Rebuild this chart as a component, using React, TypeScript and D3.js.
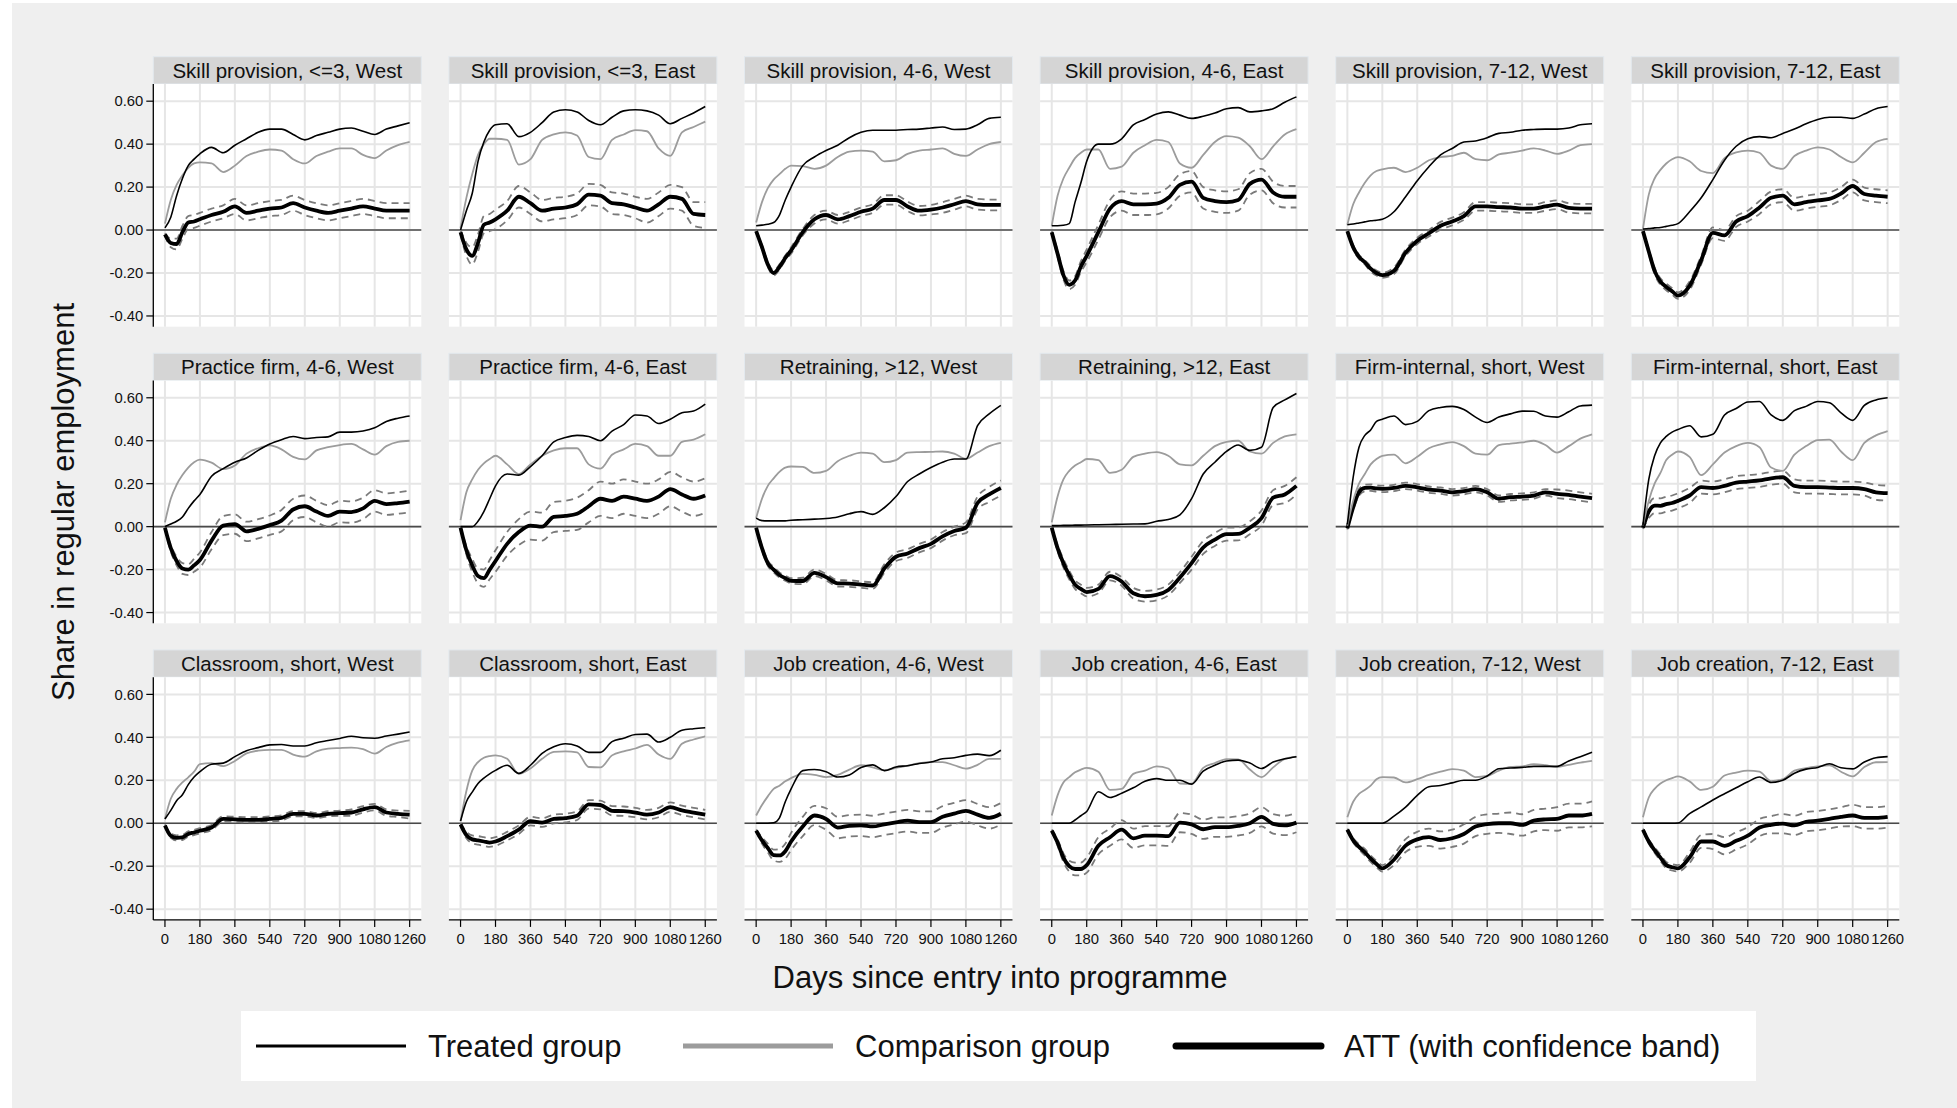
import React from "react";
import * as d3 from "d3";

const DAYS = [0,30,60,90,120,150,180,240,300,360,420,480,540,600,660,720,780,840,900,960,1020,1080,1140,1200,1260];
const X_TICKS = [0,180,360,540,720,900,1080,1260];
const Y_TICKS = [0.6,0.4,0.2,0,-0.2,-0.4];
const Y_TICK_LABELS = ["0.60","0.40","0.20","0.00","-0.20","-0.40"];

const TITLES = [
  "Skill provision, <=3, West","Skill provision, <=3, East","Skill provision, 4-6, West","Skill provision, 4-6, East","Skill provision, 7-12, West","Skill provision, 7-12, East",
  "Practice firm, 4-6, West","Practice firm, 4-6, East","Retraining, >12, West","Retraining, >12, East","Firm-internal, short, West","Firm-internal, short, East",
  "Classroom, short, West","Classroom, short, East","Job creation, 4-6, West","Job creation, 4-6, East","Job creation, 7-12, West","Job creation, 7-12, East",
];

const TREATED = [
  [0.01,0.06,0.16,0.24,0.30,0.33,0.355,0.385,0.36,0.395,0.425,0.455,0.47,0.47,0.445,0.42,0.44,0.455,0.47,0.475,0.46,0.445,0.47,0.485,0.50],
  [0.0,0.09,0.17,0.32,0.41,0.465,0.49,0.495,0.435,0.455,0.50,0.55,0.56,0.55,0.51,0.49,0.525,0.555,0.56,0.555,0.535,0.495,0.52,0.545,0.575],
  [0.02,0.023,0.027,0.035,0.07,0.14,0.20,0.30,0.34,0.37,0.395,0.43,0.455,0.465,0.465,0.465,0.468,0.47,0.475,0.48,0.468,0.47,0.49,0.52,0.525],
  [0.02,0.02,0.022,0.03,0.13,0.22,0.32,0.40,0.40,0.425,0.49,0.515,0.54,0.55,0.535,0.52,0.53,0.545,0.565,0.57,0.55,0.555,0.565,0.595,0.62],
  [0.025,0.028,0.033,0.038,0.043,0.046,0.05,0.085,0.155,0.23,0.295,0.35,0.38,0.41,0.415,0.43,0.45,0.455,0.465,0.468,0.47,0.47,0.475,0.49,0.495],
  [0.005,0.007,0.01,0.012,0.017,0.022,0.03,0.085,0.15,0.235,0.325,0.39,0.425,0.435,0.43,0.45,0.47,0.495,0.515,0.525,0.525,0.52,0.54,0.565,0.575],
  [0.0,0.012,0.025,0.045,0.085,0.12,0.15,0.235,0.27,0.30,0.32,0.355,0.385,0.405,0.42,0.41,0.415,0.418,0.44,0.44,0.445,0.46,0.49,0.505,0.515],
  [0.0,0.0,0.0,0.025,0.07,0.13,0.19,0.245,0.24,0.28,0.33,0.395,0.415,0.425,0.42,0.40,0.445,0.475,0.52,0.515,0.48,0.50,0.53,0.538,0.57],
  [0.04,0.028,0.027,0.027,0.027,0.027,0.03,0.032,0.035,0.038,0.045,0.06,0.07,0.057,0.088,0.14,0.21,0.245,0.275,0.30,0.315,0.315,0.47,0.525,0.565],
  [0.005,0.005,0.006,0.006,0.007,0.007,0.008,0.009,0.01,0.011,0.012,0.013,0.025,0.033,0.055,0.13,0.245,0.30,0.35,0.38,0.355,0.37,0.555,0.59,0.62],
  [0.01,0.23,0.37,0.425,0.45,0.49,0.50,0.515,0.475,0.49,0.54,0.555,0.56,0.545,0.51,0.485,0.51,0.525,0.538,0.537,0.515,0.51,0.535,0.562,0.566],
  [0.005,0.22,0.33,0.39,0.42,0.44,0.452,0.47,0.418,0.43,0.52,0.55,0.58,0.583,0.52,0.495,0.54,0.56,0.583,0.577,0.53,0.495,0.565,0.59,0.6],
  [0.02,0.06,0.105,0.133,0.18,0.215,0.24,0.275,0.28,0.31,0.338,0.352,0.365,0.367,0.36,0.36,0.375,0.385,0.395,0.405,0.398,0.396,0.406,0.415,0.425],
  [0.01,0.1,0.145,0.185,0.21,0.23,0.246,0.27,0.232,0.27,0.325,0.356,0.37,0.36,0.33,0.33,0.38,0.396,0.413,0.415,0.378,0.40,0.433,0.44,0.445],
  [0.0,0.0,0.0,0.002,0.025,0.1,0.16,0.245,0.25,0.24,0.215,0.225,0.26,0.272,0.245,0.262,0.268,0.278,0.285,0.30,0.305,0.316,0.322,0.315,0.34],
  [0.0,0.0,0.0,0.0,0.015,0.035,0.055,0.147,0.12,0.14,0.165,0.195,0.208,0.2,0.2,0.182,0.243,0.27,0.29,0.294,0.28,0.255,0.285,0.3,0.31],
  [0.0,0.0,0.0,0.0,0.0,0.0,0.0,0.033,0.075,0.13,0.17,0.176,0.188,0.2,0.2,0.22,0.254,0.257,0.26,0.265,0.265,0.265,0.29,0.31,0.33],
  [0.0,0.0,0.0,0.0,0.0,0.0,0.001,0.045,0.076,0.108,0.137,0.165,0.193,0.215,0.19,0.2,0.233,0.252,0.26,0.277,0.258,0.253,0.285,0.305,0.31],
];

const COMPARISON = [
  [0.03,0.14,0.21,0.255,0.29,0.31,0.315,0.31,0.27,0.30,0.345,0.365,0.375,0.37,0.33,0.31,0.345,0.365,0.38,0.38,0.35,0.335,0.37,0.395,0.41],
  [0.01,0.15,0.26,0.35,0.40,0.425,0.425,0.42,0.305,0.33,0.42,0.445,0.455,0.44,0.34,0.33,0.42,0.445,0.465,0.46,0.38,0.345,0.455,0.48,0.505],
  [0.035,0.13,0.195,0.235,0.26,0.285,0.30,0.298,0.285,0.30,0.34,0.365,0.37,0.365,0.32,0.325,0.355,0.37,0.375,0.38,0.355,0.345,0.375,0.40,0.41],
  [0.02,0.16,0.24,0.29,0.335,0.36,0.375,0.375,0.285,0.295,0.36,0.395,0.42,0.41,0.31,0.29,0.35,0.41,0.437,0.43,0.39,0.33,0.39,0.445,0.47],
  [0.025,0.12,0.175,0.22,0.255,0.275,0.283,0.29,0.27,0.29,0.325,0.34,0.345,0.36,0.33,0.325,0.352,0.36,0.37,0.38,0.37,0.355,0.37,0.395,0.40],
  [0.005,0.165,0.24,0.28,0.31,0.33,0.34,0.32,0.275,0.265,0.335,0.362,0.37,0.36,0.30,0.285,0.345,0.37,0.385,0.375,0.34,0.315,0.36,0.41,0.425],
  [0.02,0.13,0.195,0.24,0.275,0.30,0.312,0.298,0.268,0.285,0.34,0.365,0.378,0.36,0.325,0.313,0.355,0.37,0.38,0.385,0.36,0.335,0.375,0.395,0.40],
  [0.03,0.16,0.22,0.265,0.295,0.315,0.33,0.29,0.245,0.29,0.33,0.355,0.365,0.365,0.29,0.27,0.335,0.36,0.385,0.375,0.33,0.33,0.395,0.405,0.43],
  [0.04,0.13,0.19,0.225,0.255,0.275,0.28,0.278,0.25,0.26,0.305,0.33,0.345,0.34,0.30,0.31,0.345,0.347,0.348,0.35,0.34,0.316,0.345,0.375,0.39],
  [0.02,0.14,0.22,0.26,0.285,0.30,0.315,0.31,0.25,0.265,0.325,0.34,0.347,0.33,0.29,0.285,0.33,0.375,0.395,0.40,0.35,0.34,0.39,0.42,0.43],
  [0.005,0.12,0.2,0.245,0.29,0.315,0.33,0.335,0.295,0.325,0.365,0.383,0.394,0.375,0.34,0.335,0.38,0.387,0.392,0.40,0.38,0.345,0.375,0.41,0.43],
  [0.005,0.12,0.2,0.25,0.31,0.335,0.35,0.325,0.24,0.29,0.345,0.375,0.39,0.37,0.275,0.26,0.335,0.375,0.403,0.405,0.35,0.31,0.39,0.425,0.445],
  [0.02,0.114,0.16,0.19,0.214,0.24,0.275,0.28,0.266,0.29,0.325,0.338,0.342,0.342,0.32,0.31,0.335,0.347,0.35,0.352,0.345,0.324,0.355,0.375,0.386],
  [0.01,0.15,0.245,0.285,0.305,0.313,0.316,0.3,0.23,0.255,0.30,0.332,0.335,0.33,0.262,0.26,0.316,0.335,0.348,0.365,0.32,0.3,0.37,0.39,0.405],
  [0.036,0.085,0.125,0.16,0.175,0.195,0.21,0.23,0.225,0.215,0.225,0.25,0.27,0.26,0.246,0.258,0.268,0.28,0.285,0.285,0.27,0.254,0.272,0.3,0.3],
  [0.036,0.13,0.19,0.215,0.237,0.25,0.258,0.24,0.155,0.16,0.23,0.245,0.265,0.255,0.185,0.184,0.258,0.28,0.298,0.297,0.25,0.215,0.26,0.3,0.31],
  [0.028,0.1,0.137,0.155,0.175,0.205,0.215,0.213,0.19,0.205,0.225,0.24,0.252,0.245,0.215,0.22,0.245,0.262,0.265,0.275,0.27,0.262,0.272,0.282,0.29],
  [0.028,0.12,0.16,0.185,0.2,0.21,0.218,0.195,0.155,0.17,0.222,0.236,0.245,0.24,0.196,0.205,0.245,0.257,0.265,0.27,0.24,0.218,0.262,0.284,0.285],
];

const ATT = [
  [-0.02,-0.06,-0.065,-0.01,0.035,0.04,0.05,0.07,0.085,0.11,0.08,0.09,0.10,0.105,0.125,0.105,0.09,0.08,0.09,0.10,0.11,0.10,0.09,0.09,0.09],
  [-0.01,-0.09,-0.12,-0.06,0.025,0.035,0.05,0.09,0.155,0.125,0.09,0.10,0.105,0.12,0.165,0.16,0.125,0.12,0.105,0.09,0.12,0.155,0.145,0.075,0.07],
  [-0.005,-0.08,-0.16,-0.20,-0.172,-0.13,-0.095,-0.01,0.05,0.07,0.05,0.065,0.085,0.10,0.14,0.14,0.11,0.09,0.095,0.105,0.12,0.135,0.12,0.117,0.117],
  [-0.01,-0.11,-0.21,-0.255,-0.235,-0.17,-0.12,-0.01,0.10,0.135,0.12,0.12,0.123,0.15,0.21,0.225,0.15,0.135,0.13,0.14,0.215,0.235,0.175,0.155,0.155],
  [-0.005,-0.08,-0.125,-0.15,-0.18,-0.2,-0.21,-0.19,-0.105,-0.05,-0.015,0.02,0.04,0.065,0.11,0.11,0.107,0.105,0.10,0.10,0.11,0.118,0.103,0.10,0.10],
  [-0.005,-0.1,-0.19,-0.24,-0.265,-0.285,-0.305,-0.26,-0.14,-0.013,-0.025,0.04,0.065,0.105,0.15,0.16,0.12,0.13,0.138,0.145,0.17,0.205,0.168,0.16,0.155],
  [-0.005,-0.1,-0.16,-0.195,-0.2,-0.18,-0.155,-0.065,0.005,0.012,-0.022,-0.01,0.007,0.028,0.08,0.095,0.07,0.05,0.07,0.068,0.085,0.12,0.105,0.11,0.117],
  [-0.005,-0.11,-0.18,-0.23,-0.24,-0.2,-0.16,-0.08,-0.025,0.005,0.0,0.045,0.05,0.06,0.095,0.13,0.12,0.14,0.13,0.12,0.14,0.175,0.15,0.13,0.145],
  [-0.005,-0.1,-0.17,-0.2,-0.225,-0.24,-0.252,-0.253,-0.215,-0.235,-0.264,-0.265,-0.27,-0.274,-0.195,-0.14,-0.125,-0.1,-0.08,-0.045,-0.02,-0.005,0.11,0.15,0.18],
  [-0.005,-0.1,-0.17,-0.225,-0.27,-0.29,-0.305,-0.29,-0.23,-0.255,-0.31,-0.324,-0.318,-0.295,-0.237,-0.17,-0.097,-0.06,-0.035,-0.034,-0.005,0.04,0.135,0.15,0.19],
  [-0.008,0.09,0.16,0.18,0.182,0.178,0.176,0.18,0.19,0.183,0.172,0.168,0.16,0.165,0.175,0.16,0.13,0.137,0.14,0.145,0.16,0.153,0.148,0.14,0.133],
  [-0.005,0.07,0.098,0.097,0.105,0.11,0.12,0.145,0.184,0.18,0.19,0.205,0.21,0.215,0.225,0.23,0.19,0.184,0.184,0.182,0.18,0.18,0.175,0.16,0.156],
  [-0.01,-0.058,-0.068,-0.066,-0.05,-0.043,-0.035,-0.02,0.02,0.018,0.016,0.016,0.02,0.025,0.044,0.044,0.036,0.044,0.047,0.05,0.065,0.075,0.05,0.044,0.04],
  [-0.005,-0.055,-0.075,-0.08,-0.085,-0.09,-0.085,-0.06,-0.03,0.01,0.003,0.02,0.024,0.035,0.088,0.085,0.058,0.056,0.05,0.04,0.05,0.075,0.06,0.05,0.04],
  [-0.034,-0.08,-0.115,-0.148,-0.15,-0.13,-0.085,-0.015,0.036,0.02,-0.02,-0.012,-0.01,-0.015,-0.005,0.004,0.012,0.005,0.005,0.03,0.045,0.058,0.04,0.025,0.044],
  [-0.034,-0.09,-0.16,-0.2,-0.213,-0.213,-0.195,-0.105,-0.065,-0.03,-0.07,-0.058,-0.058,-0.06,0.003,-0.005,-0.028,-0.018,-0.018,-0.012,0.0,0.03,-0.003,-0.01,0.003],
  [-0.03,-0.08,-0.11,-0.135,-0.165,-0.19,-0.21,-0.17,-0.104,-0.075,-0.065,-0.078,-0.07,-0.05,-0.015,-0.004,0.0,0.0,-0.008,0.012,0.018,0.02,0.036,0.036,0.044],
  [-0.03,-0.085,-0.125,-0.16,-0.195,-0.205,-0.21,-0.16,-0.085,-0.085,-0.105,-0.082,-0.058,-0.02,-0.007,-0.002,-0.01,0.007,0.012,0.02,0.03,0.036,0.025,0.025,0.03],
];

const CI_HALF = [
  [0.005,0.02,0.025,0.03,0.03,0.03,0.03,0.03,0.03,0.035,0.035,0.035,0.035,0.035,0.035,0.035,0.035,0.035,0.035,0.035,0.035,0.035,0.035,0.035,0.035],
  [0.01,0.03,0.04,0.04,0.04,0.04,0.045,0.045,0.05,0.05,0.05,0.05,0.05,0.05,0.05,0.05,0.05,0.05,0.05,0.055,0.055,0.055,0.055,0.055,0.06],
  [0.005,0.01,0.012,0.012,0.012,0.012,0.015,0.015,0.02,0.02,0.02,0.02,0.02,0.02,0.022,0.022,0.022,0.022,0.022,0.025,0.025,0.025,0.025,0.025,0.025],
  [0.005,0.015,0.02,0.02,0.02,0.025,0.03,0.035,0.04,0.045,0.05,0.05,0.05,0.05,0.05,0.05,0.05,0.05,0.05,0.05,0.05,0.05,0.05,0.05,0.05],
  [0.005,0.01,0.01,0.01,0.012,0.012,0.012,0.015,0.015,0.015,0.015,0.018,0.018,0.018,0.02,0.02,0.02,0.02,0.02,0.02,0.02,0.02,0.022,0.022,0.022],
  [0.005,0.01,0.015,0.015,0.015,0.015,0.015,0.02,0.02,0.025,0.025,0.025,0.025,0.03,0.03,0.03,0.03,0.03,0.03,0.03,0.03,0.03,0.03,0.03,0.03],
  [0.005,0.015,0.02,0.025,0.025,0.03,0.035,0.04,0.045,0.045,0.045,0.045,0.045,0.05,0.05,0.05,0.05,0.05,0.05,0.05,0.05,0.05,0.05,0.05,0.05],
  [0.005,0.02,0.03,0.035,0.04,0.045,0.05,0.055,0.06,0.065,0.065,0.07,0.07,0.075,0.075,0.08,0.08,0.08,0.08,0.08,0.08,0.08,0.08,0.08,0.08],
  [0.005,0.01,0.012,0.012,0.012,0.012,0.012,0.015,0.015,0.015,0.015,0.015,0.015,0.015,0.02,0.02,0.02,0.02,0.02,0.02,0.02,0.025,0.03,0.035,0.035],
  [0.005,0.015,0.02,0.02,0.02,0.02,0.02,0.02,0.02,0.02,0.025,0.025,0.025,0.025,0.025,0.03,0.03,0.03,0.03,0.03,0.03,0.035,0.035,0.04,0.04],
  [0.005,0.01,0.015,0.015,0.015,0.015,0.015,0.015,0.015,0.015,0.015,0.015,0.015,0.015,0.015,0.015,0.015,0.015,0.015,0.015,0.015,0.02,0.02,0.02,0.02],
  [0.005,0.03,0.035,0.035,0.035,0.035,0.035,0.035,0.03,0.03,0.03,0.03,0.03,0.03,0.03,0.03,0.03,0.03,0.03,0.03,0.03,0.03,0.03,0.035,0.035],
  [0.005,0.01,0.012,0.012,0.012,0.012,0.012,0.012,0.012,0.012,0.012,0.012,0.012,0.012,0.012,0.012,0.012,0.012,0.012,0.015,0.015,0.015,0.015,0.015,0.018],
  [0.005,0.015,0.018,0.02,0.02,0.02,0.02,0.02,0.02,0.02,0.02,0.02,0.02,0.02,0.02,0.02,0.022,0.022,0.022,0.022,0.022,0.022,0.022,0.022,0.022],
  [0.005,0.015,0.02,0.025,0.03,0.035,0.04,0.045,0.045,0.05,0.05,0.05,0.05,0.05,0.05,0.05,0.05,0.05,0.05,0.05,0.05,0.05,0.05,0.05,0.05],
  [0.005,0.015,0.02,0.025,0.03,0.03,0.035,0.04,0.04,0.045,0.045,0.045,0.045,0.045,0.045,0.045,0.045,0.045,0.045,0.045,0.045,0.045,0.045,0.045,0.045],
  [0.005,0.01,0.012,0.015,0.015,0.015,0.015,0.025,0.03,0.035,0.04,0.04,0.04,0.045,0.045,0.045,0.045,0.05,0.05,0.05,0.05,0.055,0.055,0.055,0.058],
  [0.005,0.01,0.012,0.015,0.015,0.015,0.015,0.025,0.03,0.035,0.04,0.04,0.04,0.04,0.04,0.045,0.045,0.045,0.045,0.045,0.045,0.05,0.05,0.05,0.05],
];

const LEGEND_LABELS = ["Treated group", "Comparison group", "ATT (with confidence band)"];
const X_TITLE = "Days since entry into programme";
const Y_TITLE = "Share in regular employment";

const W = 1957;
const H = 1108;
const FONT = "'Liberation Sans', Arial, Helvetica, sans-serif";
const NCOL = 6;
const COL_X0 = 153.3;
const COL_STEP = 295.6;
const PANEL_W = 268;
const ROW_Y0 = 56.7;
const ROW_STEP = 296.6;
const HEADER_H = 27.3;
const PLOT_H = 242.7;

function Panel({ idx }: { idx: number }) {
  const col = idx % NCOL;
  const row = Math.floor(idx / NCOL);
  const L = COL_X0 + col * COL_STEP;
  const headTop = ROW_Y0 + row * ROW_STEP;
  const top = headTop + HEADER_H;
  const bottom = top + PLOT_H;
  const x = d3.scaleLinear().domain([-60, 1320]).range([L, L + PANEL_W]);
  const y = d3.scaleLinear().domain([-0.45, 0.68]).range([bottom, top]);
  const line = d3
    .line<[number, number]>()
    .x((d) => x(d[0]))
    .y((d) => y(d[1]))
    .curve(d3.curveMonotoneX);
  const mk = (vals: number[]) => DAYS.map((d, i) => [d, vals[i]] as [number, number]);
  const att = ATT[idx];
  const ci = CI_HALF[idx];
  const lo = att.map((v, i) => v - ci[i]);
  const hi = att.map((v, i) => v + ci[i]);
  const showY = col === 0;
  const showX = row === 2;
  return (
    <g>
      <rect x={L} y={headTop} width={PANEL_W} height={HEADER_H} fill="#d5d5d5" stroke="#e3e9ee" strokeWidth={1} />
      <text x={L + PANEL_W / 2} y={headTop + 21} textAnchor="middle" fontSize={20.5} fontFamily={FONT} fill="#111">
        {TITLES[idx]}
      </text>
      <rect x={L} y={top} width={PANEL_W} height={PLOT_H} fill="#ffffff" />
      {Y_TICKS.map((t) => (
        <line key={"gy" + t} x1={L} x2={L + PANEL_W} y1={y(t)} y2={y(t)} stroke="#e6e6e6" strokeWidth={2} />
      ))}
      {X_TICKS.map((t) => (
        <line key={"gx" + t} x1={x(t)} x2={x(t)} y1={top} y2={bottom} stroke="#e6e6e6" strokeWidth={2} />
      ))}
      <line x1={L} x2={L + PANEL_W} y1={y(0)} y2={y(0)} stroke="#4a4a4a" strokeWidth={1.6} />
      <path d={line(mk(lo)) || ""} fill="none" stroke="#7a7a7a" strokeWidth={1.8} strokeDasharray="7,5" />
      <path d={line(mk(hi)) || ""} fill="none" stroke="#7a7a7a" strokeWidth={1.8} strokeDasharray="7,5" />
      <path d={line(mk(att)) || ""} fill="none" stroke="#000" strokeWidth={3.8} strokeLinejoin="round" />
      <path d={line(mk(COMPARISON[idx])) || ""} fill="none" stroke="#9c9c9c" strokeWidth={1.8} />
      <path d={line(mk(TREATED[idx])) || ""} fill="none" stroke="#000" strokeWidth={1.6} />
      {showY && (
        <g>
          <line x1={L} x2={L} y1={top} y2={bottom} stroke="#000" strokeWidth={1.3} />
          {Y_TICKS.map((t, i) => (
            <g key={"yt" + t}>
              <line x1={L - 7} x2={L} y1={y(t)} y2={y(t)} stroke="#000" strokeWidth={1.2} />
              <text x={L - 10} y={y(t) + 5.2} textAnchor="end" fontSize={14.8} fontFamily={FONT} fill="#111">
                {Y_TICK_LABELS[i]}
              </text>
            </g>
          ))}
        </g>
      )}
      {showX && (
        <g>
          <line x1={L} x2={L + PANEL_W} y1={bottom} y2={bottom} stroke="#000" strokeWidth={1.3} />
          {X_TICKS.map((t) => (
            <g key={"xt" + t}>
              <line x1={x(t)} x2={x(t)} y1={bottom} y2={bottom + 7} stroke="#000" strokeWidth={1.2} />
              <text x={x(t)} y={bottom + 24} textAnchor="middle" fontSize={14.8} fontFamily={FONT} fill="#111">
                {t}
              </text>
            </g>
          ))}
        </g>
      )}
    </g>
  );
}

export default function App() {
  const legendY = 1046;
  const legendItems = [
    { x1: 256, x2: 406, tx: 428, stroke: "#000", w: 2.8, cap: "butt" },
    { x1: 683, x2: 833, tx: 855, stroke: "#9c9c9c", w: 4.8, cap: "butt" },
    { x1: 1176, x2: 1321, tx: 1344, stroke: "#000", w: 7, cap: "round" },
  ];
  return (
    <svg width={W} height={H} style={{ position: "absolute", left: 0, top: 0, display: "block" }}>
      <rect x={0} y={0} width={W} height={H} fill="#ffffff" />
      <rect x={12} y={3} width={W - 12} height={H - 3} fill="#efefef" />
      {TITLES.map((_, i) => (
        <Panel key={i} idx={i} />
      ))}
      <text x={74} y={502} transform="rotate(-90 74 502)" textAnchor="middle" fontSize={31} fontFamily={FONT} fill="#111">
        {Y_TITLE}
      </text>
      <text x={1000} y={988} textAnchor="middle" fontSize={31} fontFamily={FONT} fill="#111">
        {X_TITLE}
      </text>
      <rect x={241} y={1011} width={1515} height={70} fill="#ffffff" />
      {legendItems.map((it, i) => (
        <g key={"lg" + i}>
          <line x1={it.x1} x2={it.x2} y1={legendY} y2={legendY} stroke={it.stroke} strokeWidth={it.w} strokeLinecap={it.cap as any} />
          <text x={it.tx} y={legendY + 11} fontSize={31} fontFamily={FONT} fill="#111">
            {LEGEND_LABELS[i]}
          </text>
        </g>
      ))}
    </svg>
  );
}
